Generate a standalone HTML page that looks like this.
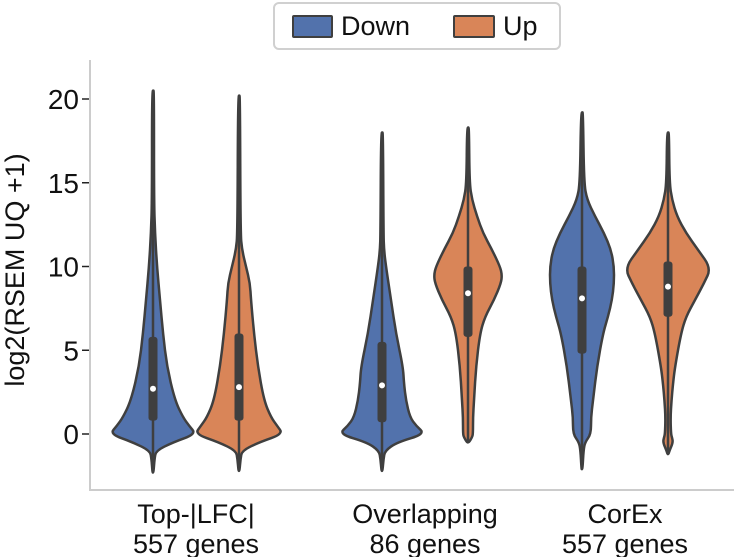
<!DOCTYPE html>
<html><head><meta charset="utf-8"><style>
body{margin:0;background:#fff;}
svg{display:block;font-family:"Liberation Sans",sans-serif;}
</style></head><body>
<svg id="chart" width="734" height="557" viewBox="0 0 734 557">
<g>
<rect x="274" y="3" width="286" height="46" rx="5" fill="#fff" stroke="#d0d0d0" stroke-width="2"/>
<rect x="293" y="16" width="39" height="21" rx="1" fill="#5272ac" stroke="#3f3f3f" stroke-width="2"/>
<text x="341" y="35" font-size="27" fill="#111">Down</text>
<rect x="454" y="16" width="40" height="21" rx="1" fill="#d98558" stroke="#3f3f3f" stroke-width="2"/>
<text x="503" y="35" font-size="27" fill="#111">Up</text>
</g>
<text transform="translate(24,270) rotate(-90)" text-anchor="middle" font-size="27" fill="#111">log2(RSEM UQ +1)</text>
<g id="yaxis"></g>
<g id="violins"></g>
<line x1="90" y1="60" x2="90" y2="490" stroke="#cccccc" stroke-width="2"/>
<line x1="89" y1="490" x2="734" y2="490" stroke="#cccccc" stroke-width="2"/>
<g id="xaxis"></g>
</svg>
<script>
const yTicks=[0,5,10,15,20];
const groupLabels=[["Top-|LFC|","557 genes"],["Overlapping","86 genes"],["CorEx","557 genes"]];
const hues=["Down","Up","Down","Up","Down","Up"];
// density profiles: [value, half-width in px]
const prof0=[[-2.3,0.5],[-1.5,1.5],[-1,3],[-0.5,20],[0,43],[0.5,36],[1,30],[2,22],[4,14],[6,10],[8,7],[10,4],[12,2],[14,1],[20.5,1]];
const prof1=[[-2.2,0.5],[-1.5,1.5],[-1,3],[-0.5,20],[0,44],[0.5,38],[1,32],[2,25],[4,19],[6,15],[8,12],[9,11],[10,7],[11,3],[12,1.5],[20.2,1]];
const prof2=[[-2.2,0.5],[-1.5,1.5],[-1,3],[-0.5,15],[0,43],[0.5,34],[1,28],[2,24],[3,22],[4,21],[6,14],[8,9],[10,4],[11,2],[12,1.5],[18,1]];
const prof3=[[-0.5,1],[-0.2,4],[0,5],[1,5],[2,6],[4,8],[6,12],[7,17],[8,26],[9,33],[9.5,34],[10,32],[11,24],[12,15],[13,9],[14,4],[15,1.5],[18.3,1]];
const prof4=[[-2.1,0.5],[-1,1.5],[-0.5,3],[0,9],[1,9],[2,11],[4,15],[6,21],[7,26],[8,30],[9,32],[10,32],[11,29],[12,22],[13,13],[14,5],[15,2],[19.2,1]];
const prof5=[[-1.2,0.5],[-1,1.5],[-0.5,5],[-0.2,4],[0,3],[1,2.5],[2,3.5],[3,5],[4,7],[6,13],[7,18],[8,27],[9,36],[9.9,43],[11,30],[12,18],[13,9],[14,4],[15,1.5],[18,1]];
const q1s=[0.8,0.8,0.7,5.8,4.8,7.0];
const q3s=[5.8,6.0,5.5,10.0,10.0,10.3];
const medians=[2.7,2.8,2.9,8.4,8.1,8.8];
const profiles=[prof0,prof1,prof2,prof3,prof4,prof5];

const NS="http://www.w3.org/2000/svg";
const y=v=>434-16.75*v;
const groupX=g=>[196,425,625][g];
const x=i=>groupX(Math.floor(i/2))+(i%2?43:-43);
const colors={Down:"#5272ac",Up:"#d98558"};
function mk(tag,attrs,parent){const e=document.createElementNS(NS,tag);for(const k in attrs)e.setAttribute(k,attrs[k]);parent.appendChild(e);return e;}
const ya=document.getElementById('yaxis');
yTicks.forEach(t=>{
  const l=mk('line',{x1:82,x2:90,y1:y(t),y2:y(t),stroke:'#222','stroke-width':1.5},ya);
  
  
  const tx=mk('text',{x:79,y:y(t)+10,'text-anchor':'end','font-size':28,fill:'#111'},ya);
  tx.textContent=t;
  
  
});
const xa=document.getElementById('xaxis');
groupLabels.forEach((lab,g)=>{
  lab.forEach((s,j)=>{
    const tx=mk('text',{x:groupX(g),y:523+j*30,'text-anchor':'middle','font-size':27,fill:'#111'},xa);
    tx.textContent=s;
    
    
  });
});
function smooth(pts){
  let d="M"+pts[0][0]+","+pts[0][1];
  for(let i=1;i<pts.length-1;i++){
    const mx=(pts[i][0]+pts[i+1][0])/2,my=(pts[i][1]+pts[i+1][1])/2;
    d+=" Q"+pts[i][0]+","+pts[i][1]+" "+mx+","+my;
  }
  const l=pts[pts.length-1];d+=" L"+l[0]+","+l[1];return d;
}
const vg=document.getElementById('violins');
profiles.forEach((p,i)=>{
  const cx=x(i);
  const right=p.map(([v,w])=>[cx+w,y(v)]);
  const left=p.slice().reverse().map(([v,w])=>[cx-w,y(v)]);
  const top=y(p[p.length-1][0]),bot=y(p[0][0]);
  let d=smooth([[cx,bot],...right,[cx,top]]);
  d+=" "+smooth([[cx,top],...left,[cx,bot]]).replace(/^M/,"L")+" Z";
  const path=mk('path',{d:d,fill:colors[hues[i]],stroke:'#3f3f3f','stroke-width':2.5,'stroke-linejoin':'round'},vg);
  
  
  const wl=mk('line',{x1:cx,x2:cx,y1:top,y2:bot,stroke:'#3f3f3f','stroke-width':2.5},vg);
  
  
  const bx=mk('rect',{x:cx-4.5,width:9,y:y(q3s[i]),height:y(q1s[i])-y(q3s[i]),rx:3,fill:'#3f3f3f'},vg);
  
  
  const md=mk('circle',{cx:cx,cy:y(medians[i]),r:3,fill:'#fff'},vg);
  
  
});
</script>
</body></html>
